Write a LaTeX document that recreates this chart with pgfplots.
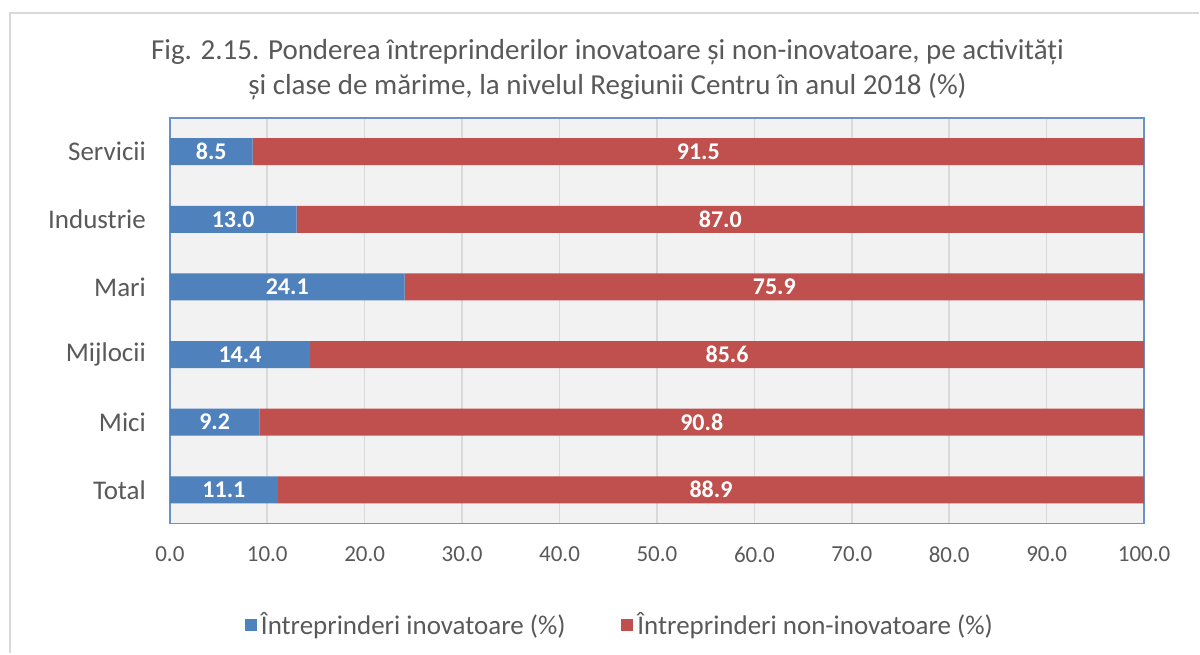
\documentclass[border=0pt]{standalone}
\usepackage{fontspec}
\setmainfont{Carlito}
\usepackage{pgfplots}
\usepackage{pgfplotstable}
\pgfplotsset{compat=1.18}
\definecolor{cblue}{HTML}{4F81BD}
\definecolor{cred}{HTML}{C0504D}
\definecolor{ctext}{HTML}{595959}
\definecolor{cgrid}{HTML}{D9D9D9}
\definecolor{cbg}{HTML}{F2F2F2}
\definecolor{cframe}{HTML}{6A92C8}
\pgfplotstableread{
y inov noninov
0 11.1 88.9
1 9.2 90.8
2 14.4 85.6
3 24.1 75.9
4 13.0 87.0
5 8.5 91.5
}\datatab
\pgfplotstableread{
x y label
5.55 0 11.1
4.6 1 9.2
7.2 2 14.4
12.05 3 24.1
6.5 4 13.0
4.25 5 8.5
55.55 0 88.9
54.6 1 90.8
57.2 2 85.6
62.05 3 75.9
56.5 4 87.0
54.25 5 91.5
}\labtab
\begin{document}
\begin{tikzpicture}[x=0.5pt,y=0.5pt]
\path[fill=white] (0,0) rectangle (1200,654);
\draw[cgrid, line width=1pt] (10,0) -- (10,641) -- (1200,641);
\node[text=ctext, font=\fontsize{14.5}{17.5}\selectfont, align=center] at (608,584)
  {Fig. 2.15. Ponderea întreprinderilor inovatoare și non-inovatoare, pe activități\\și clase de mărime, la nivelul Regiunii Centru în anul 2018 (\%)};
\begin{axis}[
  at={(85pt,65pt)}, anchor=south west,
  scale only axis, width=487.5pt, height=203pt,
  xmin=0, xmax=100, ymin=-0.5, ymax=5.5,
  xbar stacked, bar width=13.5pt,
  axis background/.style={fill=cbg},
  axis line style={cframe, line width=0.8pt},
  xtick={0,10,...,100},
  ytick={0,1,2,3,4,5},
  yticklabels={Total,Mici,Mijlocii,Mari,Industrie,Servicii},
  major tick length=0pt,
  xmajorgrids, grid style={cgrid, line width=0.8pt},
  xticklabel style={/pgf/number format/fixed, /pgf/number format/zerofill, /pgf/number format/precision=1, /pgf/number format/assume math mode=true, text=ctext, font=\fontsize{11.5}{13}\selectfont},
  yticklabel style={text=ctext, font=\fontsize{13.5}{15}\selectfont},
  xticklabel shift=8pt, yticklabel shift=8.5pt,
  legend style={at={(0.463,-0.249)}, anchor=center, draw=none, fill=none, legend columns=2, font=\fontsize{13.5}{15}\selectfont, text=ctext, /tikz/every even column/.append style={column sep=26pt}},
  legend image code/.code={\fill[#1] (0pt,-3pt) rectangle (6pt,3pt);},
]
\addplot[fill=cblue, draw=none] table[x=inov, y=y] {\datatab};
\addlegendentry{Întreprinderi inovatoare (\%)}
\addplot[fill=cred, draw=none] table[x=noninov, y=y] {\datatab};
\addlegendentry{Întreprinderi non-inovatoare (\%)}
\end{axis}
\begin{axis}[
  at={(85pt,65pt)}, anchor=south west,
  scale only axis, width=487.5pt, height=203pt,
  xmin=0, xmax=100, ymin=-0.5, ymax=5.5,
  hide axis,
]
\addplot[draw=none, mark=none, nodes near coords, point meta=explicit symbolic,
  every node near coord/.style={anchor=center, text=white, font=\bfseries\fontsize{12}{13}\selectfont}]
  table[x=x, y=y, meta=label] {\labtab};
\end{axis}
\end{tikzpicture}
\end{document}
